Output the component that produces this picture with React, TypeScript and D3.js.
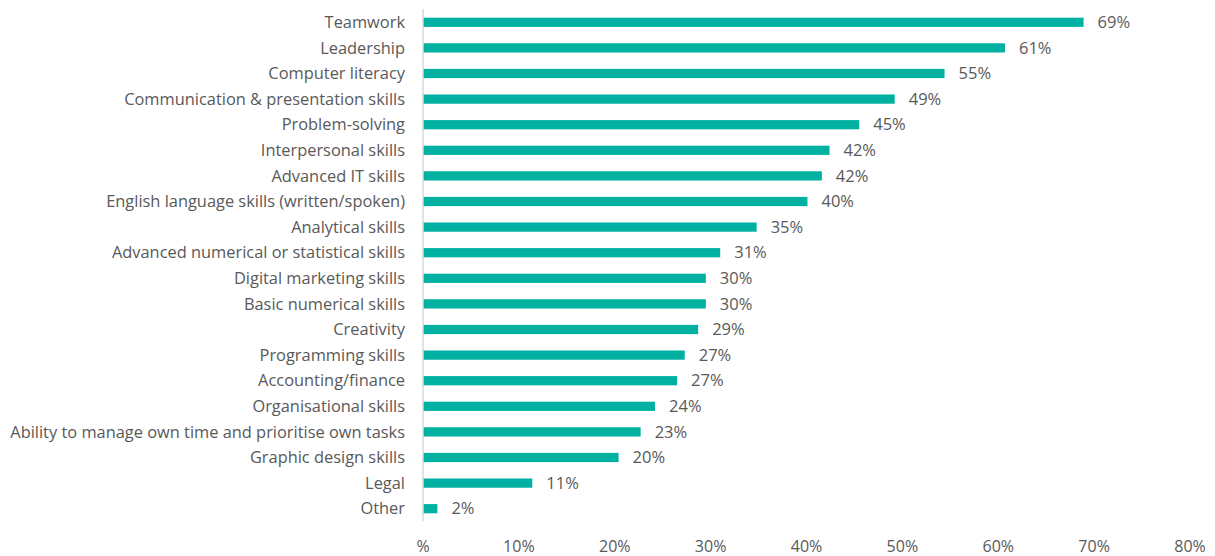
import React from "react";
import * as d3 from "d3";

const categories = [
  "Teamwork",
  "Leadership",
  "Computer literacy",
  "Communication & presentation skills",
  "Problem-solving",
  "Interpersonal skills",
  "Advanced IT skills",
  "English language skills (written/spoken)",
  "Analytical skills",
  "Advanced numerical or statistical  skills",
  "Digital marketing skills",
  "Basic numerical skills",
  "Creativity",
  "Programming skills",
  "Accounting/finance",
  "Organisational skills",
  "Ability to manage own time and prioritise own tasks",
  "Graphic design skills",
  "Legal",
  "Other",
];
const values = [68.9, 60.7, 54.4, 49.2, 45.5, 42.4, 41.6, 40.1, 34.8, 31.0, 29.5, 29.5, 28.7, 27.3, 26.5, 24.2, 22.7, 20.4, 11.4, 1.5];
const labels = ["69%", "61%", "55%", "49%", "45%", "42%", "42%", "40%", "35%", "31%", "30%", "30%", "29%", "27%", "27%", "24%", "23%", "20%", "11%", "2%"];
const ticks = [0, 10, 20, 30, 40, 50, 60, 70, 80];
const tickLabels = ["%", "10%", "20%", "30%", "40%", "50%", "60%", "70%", "80%"];

const W = 1215, H = 556;
const FONT = "'Open Sans', 'Noto Sans', sans-serif";
const TXT = "#595959";
const BAR = "#00B0A0";

export default function App() {
  const x = d3.scaleLinear().domain([0, 80]).range([423, 1190]);
  const y = d3.scaleBand<string>().domain(categories).range([9.5, 521.5]).paddingInner(0.64).paddingOuter(0.32);
  return (
    <svg width={W} height={H} style={{ position: "absolute", left: 0, top: 0, display: "block" }} fontFamily={FONT}>
      <rect width={W} height={H} fill="#fff" />
      {categories.map((c, i) => (
        <g key={c}>
          <rect x={x(0)} y={y(c)!} width={x(values[i]) - x(0)} height={y.bandwidth()} fill={BAR} />
          <text x={x(values[i]) + 14} y={y(c)! + y.bandwidth() / 2} dy="0.35em" fontSize={16.5} fill={TXT}>{labels[i]}</text>
          <text x={405} y={y(c)! + y.bandwidth() / 2} dy="0.35em" fontSize={16.4} fill={TXT} textAnchor="end">{c}</text>
        </g>
      ))}
      <line x1={x(0)} x2={x(0)} y1={9} y2={521} stroke="#D9D9D9" strokeWidth={1.5} />
      {ticks.map((t, i) => (
        <text key={t} x={x(t)} y={546} dy="0.35em" fontSize={16} fill={TXT} textAnchor="middle">{tickLabels[i]}</text>
      ))}
    </svg>
  );
}
